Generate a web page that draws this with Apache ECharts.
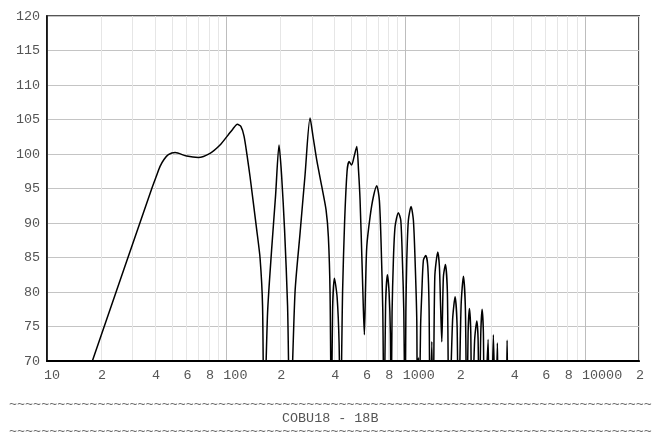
<!DOCTYPE html>
<html><head><meta charset="utf-8">
<script src="https://cdn.jsdelivr.net/npm/echarts@6/dist/echarts.min.js"></script>
<style>html,body{margin:0;padding:0;background:#fff}#c{width:670px;height:437px}</style>
</head><body><div id="c"></div>
<script>
// Frequency (Hz) and SPL (dB)
const freqHz = [
  17.9, 38.4, 40.6, 42.7, 44.9, 47.5, 51.8, 60.1, 69.8, 81.1, 92.2, 102.6, 108.6, 115.2, 120.5, 125.5, 130.5, 135.6, 147.7, 154.2, 159.2,
  162.3, 169.8, 178.7, 188.2, 196.7, 203.2, 211.2, 219.5,
  226.6, 241.6, 257.6, 274.8, 293.0, 304.5, 319.3, 340.5, 359.8, 370.6, 378.8,
  385.2, 391.2, 400.4, 414.5, 425.3,
  432.5, 444.8, 456.3, 471.2, 483.4, 499.2, 515.5, 533.7, 546.2, 556.8, 571.3, 580.9, 588.4, 597.6, 606.9, 633.1, 660.6, 690.0, 713.4, 729.2, 745.3,
  757.8, 772.6, 790.6, 808.0, 821.7,
  829.1, 839.7, 854, 873, 910.7, 939.2, 958.8, 975.9,
  992.4, 1002.6, 1014.2, 1035.3, 1071.7, 1104.1, 1128.3, 1153.2,
  1162, 1177.1, 1187.8, 1211, 1229.9, 1255.4, 1294.6, 1328.5, 1350.8,
  1368.4, 1398.6, 1422.1, 1453.5, 1510.5, 1541.9, 1565.6, 1590, 1623.1, 1665.4, 1708.9,
  1745.9, 1826.9, 1886.4, 1935.5, 1967.9, 2037, 2098.1, 2152.8, 2191.8, 2228.4, 2266.2, 2307.3,
  2337, 2423.4, 2492.4, 2534.7, 2567.6, 2623.1, 2667.4, 2712.6, 2747.4, 2881.3, 2937,
  2994, 3083.3, 3171.6, 3245.5, 3317, 3608.1, 3677.9, 3749, 20000
];
const splDb = [
  70, 95.0, 96.7, 98.2, 99.2, 99.9, 100.2, 99.7, 99.5, 100.1, 101.3, 102.8, 103.6, 104.3, 104.0, 102.6, 99.8, 96.7, 89.0, 84.9, 78.0,
  60, 77, 86, 94, 101.3, 97, 89, 78,
  60, 80, 88.5, 97, 105.2, 102.5, 99.1, 95.3, 91.9, 88.0, 79.8,
  60, 77.4, 82.0, 79.3, 72.6,
  60, 80, 90, 97.5, 98.9, 98.4, 99.6, 101.1, 97.5, 93.3, 84, 77.5, 73.8, 81, 86.6, 90.9, 93.8, 95.4, 93.3, 87.1, 77.4,
  60, 78, 82.5, 80, 74,
  60, 77, 84.6, 89.5, 91.5, 90.4, 84.6, 77.4,
  60, 77, 84.6, 90.4, 92.4, 90.4, 84.6, 75.9,
  60, 70.5, 60, 75, 79.8, 84.6, 85.3, 83.7, 77.4,
  60, 72.8, 60, 82.2, 85.8, 83.7, 78, 72.8, 82.2, 84.0, 79.8,
  60, 76, 79.3, 75, 60, 78, 82.3, 77.5, 60, 74, 77.6, 74,
  60, 73, 75.8, 73, 60, 74, 77.5, 74, 60, 73.1, 60,
  60, 73.8, 60, 72.6, 60, 60, 73.0, 60, 60
];
const gridFreqs = [10,20,30,40,50,60,70,80,90,100,200,300,400,500,600,700,800,900,1000,2000,3000,4000,5000,6000,7000,8000,9000,10000,20000];
const labelFreqs = [10,20,40,60,80,100,200,400,600,800,1000,2000,4000,6000,8000,10000,20000];
const titleText = 'COBU18 - 18B';
const tildeRow = '~'.repeat(80);

const font = 'Liberation Mono';
const txt = '#555';
const points = freqHz.map((f, i) => [f, splDb[i]]);

const chart = echarts.init(document.getElementById('c'), null, {renderer: 'canvas'});
chart.setOption({
  animation: false,
  backgroundColor: '#fff',
  title: [
    {text: tildeRow, left: 4, top: 392, textStyle: {fontFamily: font, fontSize: 13.4, fontWeight: 'normal', color: '#666', lineHeight: 14}},
    {text: titleText, left: 277, top: 406, textStyle: {fontFamily: font, fontSize: 13.4, fontWeight: 'normal', color: txt, lineHeight: 14}},
    {text: tildeRow, left: 4, top: 419, textStyle: {fontFamily: font, fontSize: 13.4, fontWeight: 'normal', color: '#666', lineHeight: 14}}
  ],
  grid: {left: 47, right: 31, top: 16, bottom: 76, show: true, borderColor: '#555', borderWidth: 2, backgroundColor: 'transparent'},
  xAxis: {
    type: 'log', logBase: 10, min: 10, max: 20000,
    axisLine: {show: true, onZero: false, lineStyle: {color: '#000', width: 2}},
    axisTick: {show: false, customValues: gridFreqs},
    splitLine: {show: true, lineStyle: {color: ['#bdbdbd','#e6e6e6','#e6e6e6','#e6e6e6','#e6e6e6','#e6e6e6','#e6e6e6','#e6e6e6','#e6e6e6'], width: 1}},
    axisLabel: {
      customValues: labelFreqs,
      fontFamily: font, fontSize: 13.4, color: txt, margin: 8, align: 'left', padding: [0, 0, 0, -3],
      formatter: v => { const s = String(Math.round(v)); return /^10*$/.test(s) ? s : s[0]; }
    }
  },
  yAxis: {
    type: 'value', min: 70, max: 120, interval: 5,
    axisLine: {show: true, onZero: false, lineStyle: {color: '#000', width: 1.5}},
    axisTick: {show: false},
    splitLine: {show: true, lineStyle: {color: '#c4c4c4', width: 1}},
    axisLabel: {fontFamily: font, fontSize: 13.4, color: txt, margin: 7}
  },
  series: [{
    type: 'line', data: points, showSymbol: false, clip: true, smooth: 0.25,
    lineStyle: {color: '#000', width: 1.5}
  }]
});
</script></body></html>
